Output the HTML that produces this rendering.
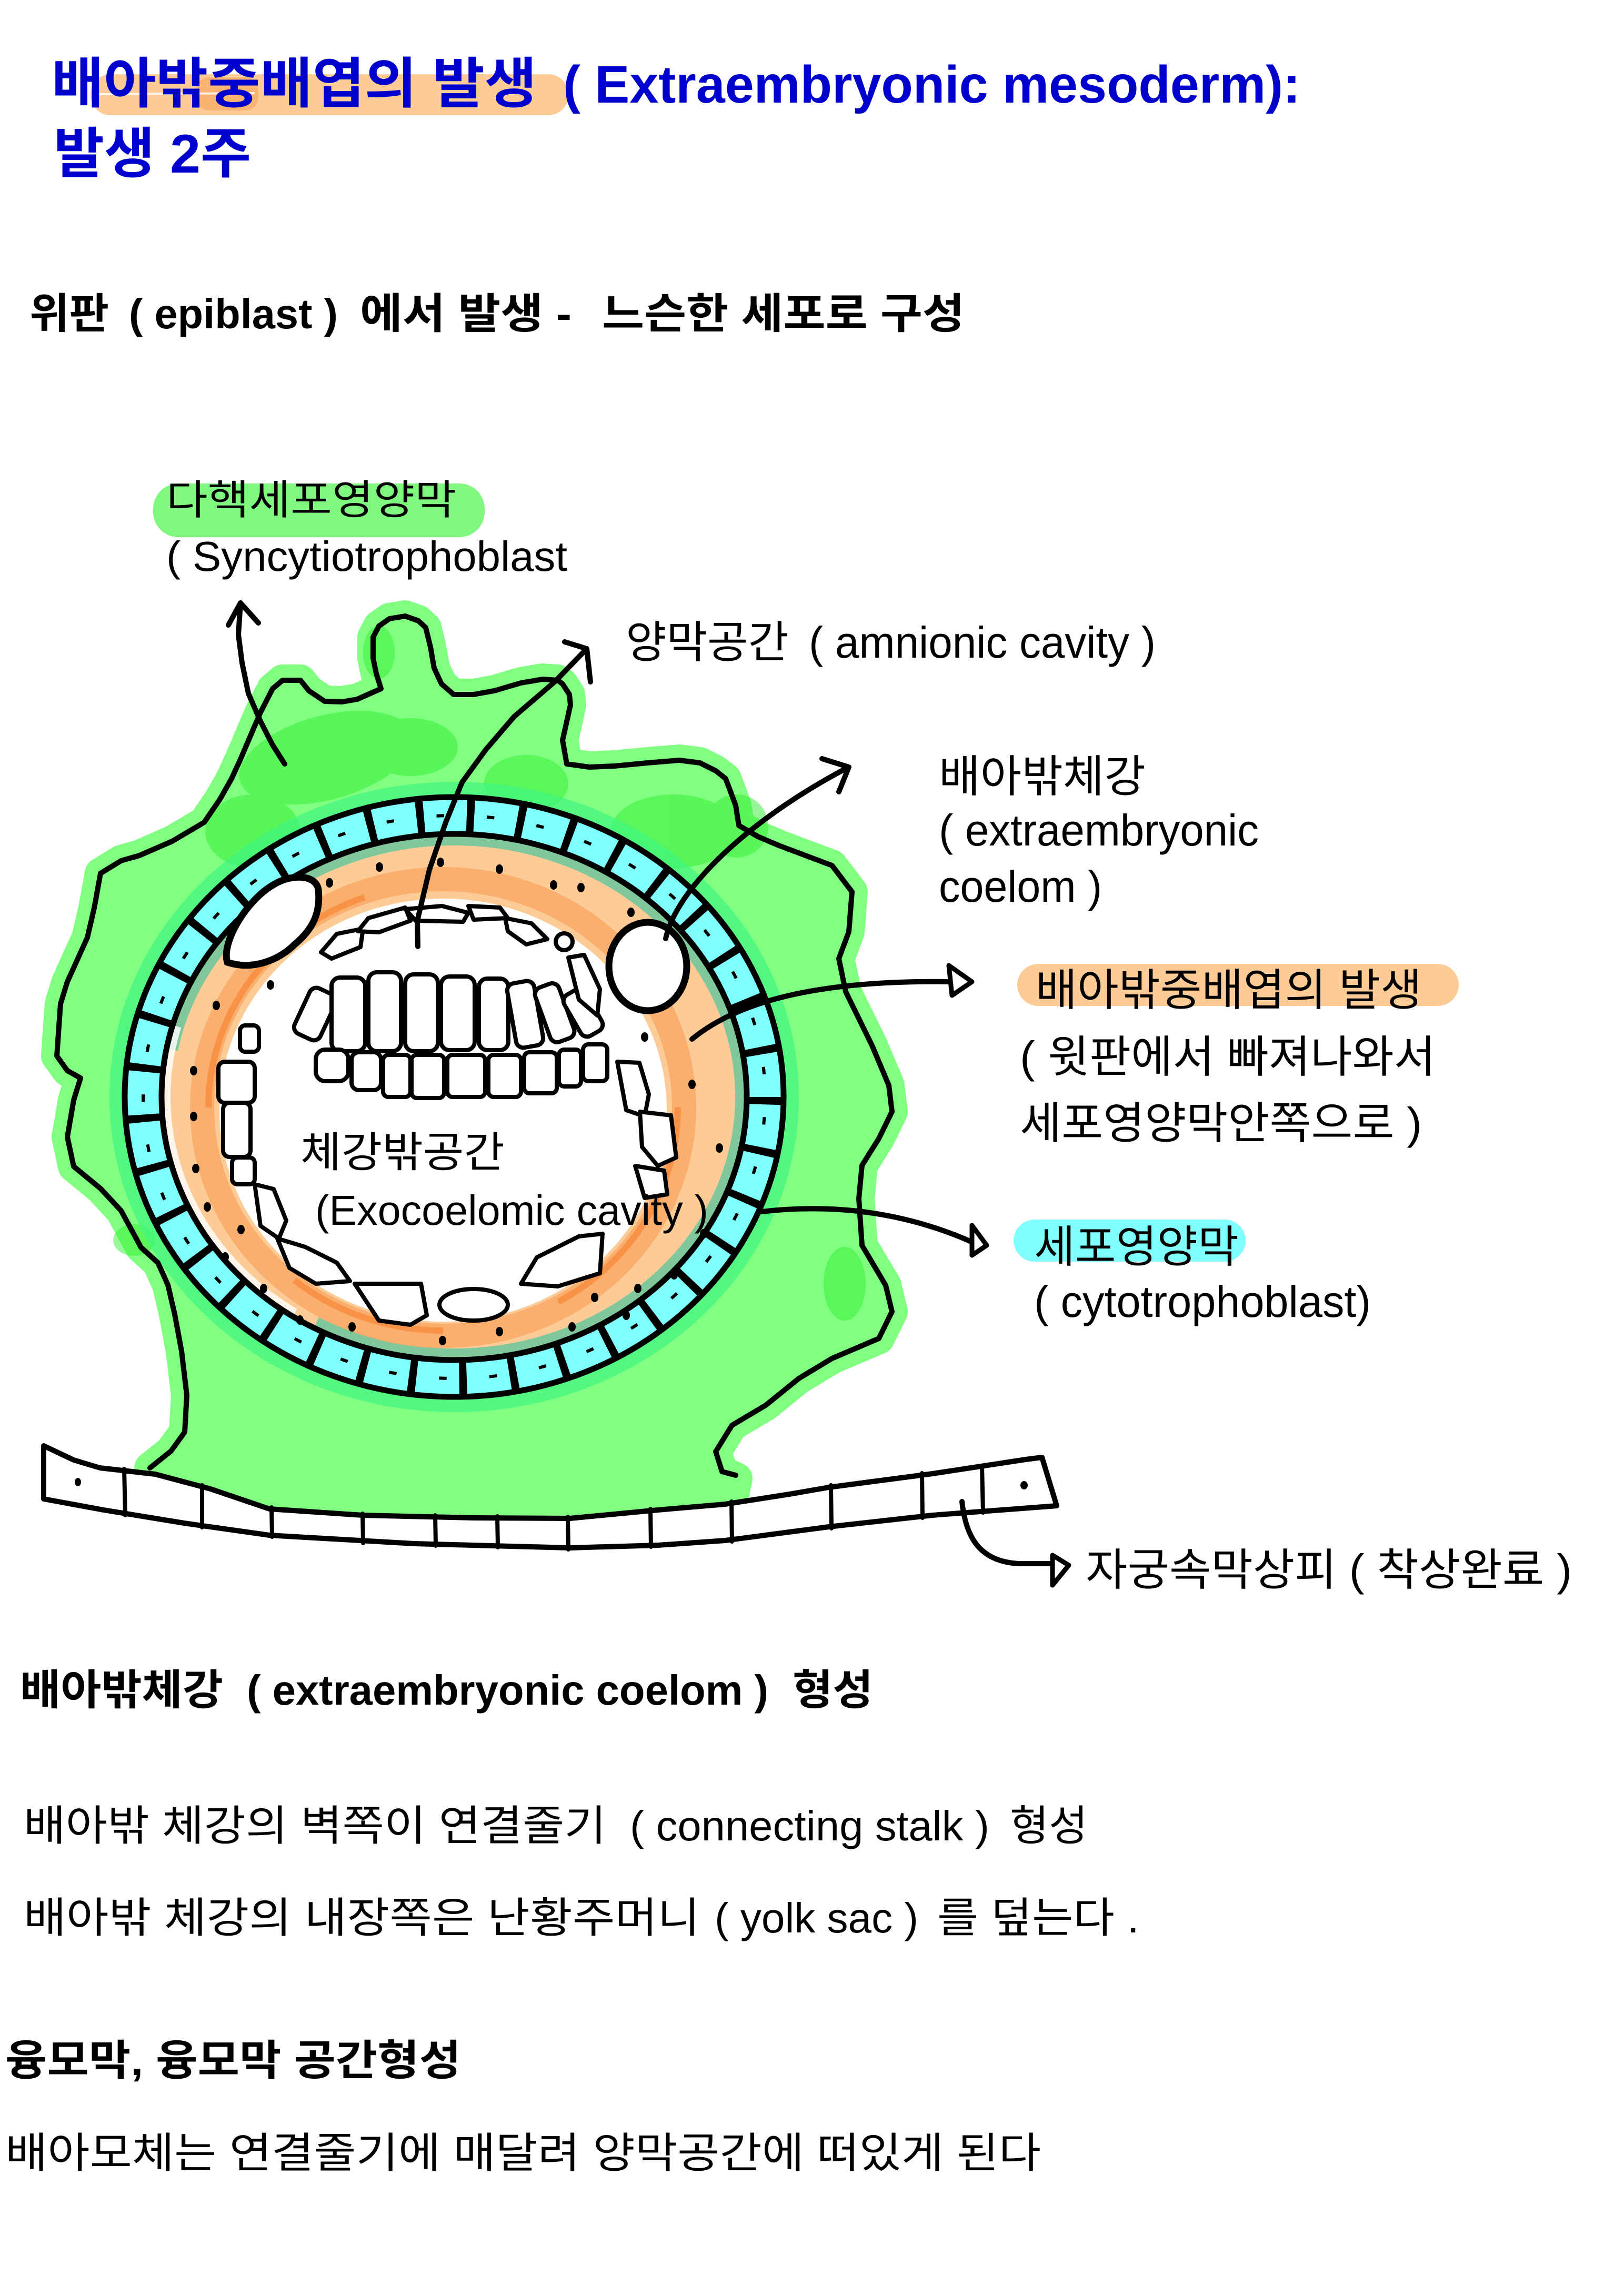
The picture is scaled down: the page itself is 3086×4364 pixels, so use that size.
<!DOCTYPE html>
<html><head><meta charset="utf-8"><style>
html,body{margin:0;padding:0;background:#fff;}
svg{display:block;}
text{font-family:"Liberation Sans","Noto Sans CJK KR",sans-serif;}
.b{font-weight:bold;}
</style></head><body>
<svg width="3086" height="4364" viewBox="0 0 3086 4364" xmlns="http://www.w3.org/2000/svg">
<rect width="3086" height="4364" fill="#fff"/>

<!-- Title highlight -->
<rect x="172" y="141" width="908" height="78" rx="38" fill="#fdcb96"/>
<rect x="372" y="147" width="119" height="63" rx="25" fill="#f9a15a" opacity="0.55"/>
<line x1="185" y1="179" x2="484" y2="177" stroke="#fff" stroke-width="4" opacity="0.8"/>

<text x="98" y="195" font-size="104" class="b" fill="#0000cd" textLength="922" lengthAdjust="spacingAndGlyphs">배아밖중배엽의 발생</text>
<text x="1070" y="195" font-size="100" class="b" fill="#0000cd" textLength="1401" lengthAdjust="spacingAndGlyphs">( Extraembryonic mesoderm):</text>
<text x="102" y="328" font-size="104" class="b" fill="#0000cd" textLength="375" lengthAdjust="spacingAndGlyphs">발생 2주</text>

<text x="56" y="624" font-size="80" class="b" fill="#000" textLength="151" lengthAdjust="spacingAndGlyphs">위판</text>
<text x="245" y="624" font-size="80" class="b" fill="#000" textLength="397" lengthAdjust="spacingAndGlyphs">( epiblast )</text>
<text x="684" y="624" font-size="80" class="b" fill="#000" textLength="402" lengthAdjust="spacingAndGlyphs">에서 발생 -</text>
<text x="1144" y="624" font-size="80" class="b" fill="#000" textLength="689" lengthAdjust="spacingAndGlyphs">느슨한 세포로 구성</text>

<!-- label highlights -->
<rect x="291" y="919" width="630" height="102" rx="48" fill="#80f880"/>
<rect x="1933" y="1832" width="839" height="80" rx="40" fill="#fdcb96"/>
<rect x="1926" y="2318" width="441" height="80" rx="40" fill="#80ffff"/>

<!-- GREEN syncytiotrophoblast -->
<polygon fill="#80ff80" stroke="#80ff80" stroke-width="60" stroke-linejoin="round" points="285,2790 325,2758 351,2722 355,2652 345,2568 332,2498 319,2442 300,2400 268,2371 230,2301 191,2259 140,2217 128,2161 140,2091 153,2049 128,2035 108,2007 112,1950 115,1908 128,1866 166,1782 179,1726 191,1660 230,1636 265,1626 327,1599 388,1563 418,1519 440,1480 457,1443 480,1389 495,1354 518,1309 537,1293 571,1293 587,1313 617,1333 650,1334 679,1329 724,1309 715,1280 709,1251 709,1211 720,1190 740,1176 770,1171 795,1180 809,1193 818,1230 825,1270 839,1300 862,1320 900,1320 939,1313 990,1298 1031,1291 1060,1293 1069,1300 1082,1320 1084,1340 1075,1380 1069,1407 1077,1452 1120,1458 1168,1456 1230,1450 1291,1445 1330,1450 1360,1465 1379,1480 1398,1531 1404,1569 1440,1590 1480,1607 1581,1645 1619,1695 1613,1771 1594,1822 1607,1885 1657,1987 1689,2063 1695,2113 1670,2164 1638,2215 1632,2278 1638,2367 1683,2443 1695,2493 1670,2544 1581,2582 1518,2620 1455,2671 1391,2709 1360,2759 1372,2797 1400,2810 1390,2858 1250,2870 1083,2886 900,2885 689,2880 512,2868 400,2830 295,2802"/>
<g fill="#33ef33" opacity="0.5">
<ellipse cx="620" cy="1440" rx="170" ry="80" transform="rotate(-15 620 1440)"/>
<ellipse cx="480" cy="1580" rx="90" ry="70"/>
<ellipse cx="780" cy="1420" rx="90" ry="55"/>
<ellipse cx="1000" cy="1490" rx="80" ry="55"/>
<ellipse cx="1280" cy="1580" rx="120" ry="70"/>
<ellipse cx="1400" cy="1570" rx="60" ry="60"/>
<ellipse cx="1605" cy="2440" rx="40" ry="70"/>
<ellipse cx="255" cy="2357" rx="40" ry="30"/>
<ellipse cx="720" cy="1240" rx="30" ry="50"/>
</g>
<ellipse cx="863" cy="2085" rx="642" ry="586" fill="none" stroke="#40f580" stroke-width="26" opacity="0.7"/>

<!-- orange extraembryonic mesoderm -->
<ellipse cx="863" cy="2085" rx="562" ry="506" fill="#fdcb96"/>
<ellipse cx="863" cy="2085" rx="548" ry="492" fill="none" stroke="#80c89c" stroke-width="28" pathLength="360" stroke-dasharray="290 70" stroke-dashoffset="170"/>
<ellipse cx="863" cy="2085" rx="545" ry="490" fill="none" stroke="#fff" stroke-width="12" pathLength="360" stroke-dasharray="70 290" stroke-dashoffset="-125" opacity="0.8"/>
<ellipse cx="842" cy="2105" rx="458" ry="434" fill="none" stroke="#f9a864" stroke-width="46" opacity="0.8"/>
<ellipse cx="842" cy="2105" rx="446" ry="424" fill="none" stroke="#f57a26" stroke-width="12" opacity="0.55" pathLength="360" stroke-dasharray="60 30 40 50 70 110"/>
<ellipse cx="842" cy="2110" rx="425" ry="402" fill="#fff"/>

<!-- cyan cytotrophoblast ring -->
<ellipse cx="863" cy="2085" rx="591" ry="535" fill="none" stroke="#80ffff" stroke-width="70"/>
<ellipse cx="863" cy="2085" rx="591" ry="535" fill="none" stroke="#000" stroke-width="76" pathLength="370" stroke-dasharray="1.5 8.5"/>
<ellipse cx="863" cy="2085" rx="591" ry="535" fill="none" stroke="#000" stroke-width="6" pathLength="370" stroke-dasharray="1.5 8.5" stroke-dashoffset="-4"/>
<ellipse cx="863" cy="2085" rx="626" ry="570" fill="none" stroke="#000" stroke-width="11"/>
<ellipse cx="863" cy="2085" rx="556" ry="500" fill="none" stroke="#000" stroke-width="11"/>

<!-- cells in cavity -->
<g fill="#fff" stroke="#000" stroke-width="8" stroke-linejoin="round">
<rect x="572" y="1880" width="54" height="95" rx="14" transform="rotate(25 599 1927)"/>
<rect x="630" y="1858" width="64" height="140" rx="16"/>
<rect x="700" y="1848" width="62" height="150" rx="16"/>
<rect x="770" y="1852" width="62" height="146" rx="16"/>
<rect x="838" y="1856" width="64" height="140" rx="16"/>
<rect x="910" y="1860" width="56" height="136" rx="16"/>
<rect x="972" y="1866" width="52" height="124" rx="14" transform="rotate(-10 998 1928)"/>
<rect x="1030" y="1870" width="48" height="110" rx="14" transform="rotate(-20 1054 1925)"/>
<rect x="1085" y="1880" width="46" height="90" rx="14" transform="rotate(-30 1108 1925)"/>
<rect x="600" y="1995" width="62" height="60" rx="18"/>
<rect x="668" y="2000" width="56" height="72" rx="14"/>
<rect x="728" y="2005" width="52" height="80" rx="10"/>
<rect x="782" y="2005" width="62" height="82" rx="10"/>
<rect x="850" y="2005" width="72" height="80" rx="10"/>
<rect x="928" y="2005" width="62" height="80" rx="10"/>
<rect x="996" y="2000" width="62" height="78" rx="10"/>
<rect x="1062" y="1995" width="42" height="70" rx="10"/>
<rect x="1108" y="1985" width="46" height="70" rx="10"/>
<polygon points="610,1810 640,1775 690,1765 685,1800 630,1822"/>
<polygon points="680,1770 700,1745 770,1725 780,1750 720,1772"/>
<polygon points="770,1728 840,1722 890,1735 880,1752 790,1750"/>
<polygon points="890,1722 950,1725 965,1745 900,1748"/>
<polygon points="960,1745 1010,1755 1040,1785 1000,1795 965,1770"/>
<circle cx="1072" cy="1790" r="16"/>
<polygon points="1080,1820 1110,1815 1140,1880 1135,1930 1100,1900"/>
<rect x="456" y="1949" width="36" height="50" rx="10"/>
<rect x="415" y="2018" width="69" height="78" rx="12"/>
<rect x="424" y="2096" width="52" height="103" rx="12"/>
<rect x="441" y="2200" width="43" height="51" rx="10"/>
<polygon points="484,2251 520,2260 544,2320 530,2354 495,2330"/>
<polygon points="527,2354 580,2370 640,2400 665,2435 600,2440 550,2410"/>
<polygon points="674,2440 800,2440 811,2500 780,2518 720,2510"/>
<ellipse cx="900" cy="2480" rx="65" ry="30"/>
<polygon points="990,2440 1020,2390 1100,2350 1145,2345 1140,2420 1060,2445"/>
<polygon points="1173,2018 1215,2020 1233,2080 1225,2122 1190,2110"/>
<polygon points="1216,2113 1275,2120 1285,2200 1250,2216 1220,2180"/>
<polygon points="1207,2216 1262,2225 1268,2270 1225,2277"/>
</g>
<path d="M432,1829 C420,1790 470,1710 519,1682 C550,1662 600,1660 605,1691 C610,1740 590,1770 560,1795 C530,1825 480,1845 432,1829 Z" fill="#fff" stroke="#000" stroke-width="13"/>
<ellipse cx="1231" cy="1837" rx="74" ry="84" fill="#fff" stroke="#000" stroke-width="13"/>

<g fill="#000">
<ellipse cx="721" cy="1648" rx="7" ry="9"/><ellipse cx="837" cy="1639" rx="7" ry="9"/><ellipse cx="949" cy="1652" rx="7" ry="9"/>
<ellipse cx="1052" cy="1682" rx="7" ry="9"/><ellipse cx="1104" cy="1687" rx="7" ry="9"/><ellipse cx="626" cy="1678" rx="7" ry="9"/>
<ellipse cx="1199" cy="1734" rx="7" ry="9"/><ellipse cx="514" cy="1872" rx="7" ry="9"/><ellipse cx="411" cy="1911" rx="7" ry="9"/>
<ellipse cx="368" cy="2035" rx="7" ry="9"/><ellipse cx="368" cy="2122" rx="7" ry="9"/><ellipse cx="372" cy="2221" rx="7" ry="9"/>
<ellipse cx="394" cy="2294" rx="7" ry="9"/><ellipse cx="458" cy="2337" rx="7" ry="9"/><ellipse cx="428" cy="2389" rx="7" ry="9"/>
<ellipse cx="501" cy="2449" rx="7" ry="9"/><ellipse cx="570" cy="2509" rx="7" ry="9"/><ellipse cx="669" cy="2522" rx="7" ry="9"/>
<ellipse cx="841" cy="2548" rx="7" ry="9"/><ellipse cx="949" cy="2531" rx="7" ry="9"/><ellipse cx="1087" cy="2522" rx="7" ry="9"/>
<ellipse cx="1190" cy="2500" rx="7" ry="9"/><ellipse cx="1130" cy="2466" rx="7" ry="9"/><ellipse cx="1212" cy="2449" rx="7" ry="9"/>
<ellipse cx="1281" cy="2423" rx="7" ry="9"/><ellipse cx="1337" cy="2345" rx="7" ry="9"/><ellipse cx="1367" cy="2182" rx="7" ry="9"/>
<ellipse cx="1315" cy="2061" rx="7" ry="9"/><ellipse cx="1225" cy="1971" rx="7" ry="9"/>
</g>

<polyline fill="none" stroke="#000" stroke-width="10" stroke-linejoin="round" stroke-linecap="round" points="285,2790 325,2758 351,2722 355,2652 345,2568 332,2498 319,2442 300,2400 268,2371 230,2301 191,2259 140,2217 128,2161 140,2091 153,2049 128,2035 108,2007 112,1950 115,1908 128,1866 166,1782 179,1726 191,1660 230,1636 265,1626 327,1599 388,1563 418,1519 440,1480 457,1443 480,1389 495,1354 518,1309 537,1293 571,1293 587,1313 617,1333 650,1334 679,1329 724,1309 715,1280 709,1251 709,1211 720,1190 740,1176 770,1171 795,1180 809,1193 818,1230 825,1270 839,1300 862,1320 900,1320 939,1313 990,1298 1031,1291 1060,1293 1069,1300 1082,1320 1084,1340 1075,1380 1069,1407 1077,1452 1120,1458 1168,1456 1230,1450 1291,1445 1330,1450 1360,1465 1379,1480 1398,1531 1404,1569 1440,1590 1480,1607 1581,1645 1619,1695 1613,1771 1594,1822 1607,1885 1657,1987 1689,2063 1695,2113 1670,2164 1638,2215 1632,2278 1638,2367 1683,2443 1695,2493 1670,2544 1581,2582 1518,2620 1455,2671 1391,2709 1360,2759 1372,2797 1398,2804"/>

<polygon fill="#fff" stroke="#000" stroke-width="10" stroke-linejoin="round" points="83,2748 140,2775 190,2790 295,2802 400,2830 512,2868 689,2880 900,2885 1083,2886 1250,2870 1378,2859 1500,2840 1575,2827 1772,2801 1949,2774 1980,2770 2008,2862 1772,2880 1575,2902 1378,2928 1250,2937 1083,2942 787,2934 512,2918 350,2895 197,2870 83,2849"/>
<g stroke="#000" stroke-width="8" stroke-linecap="round">
<line x1="236" y1="2792" x2="238" y2="2880"/><line x1="384" y1="2823" x2="384" y2="2903"/>
<line x1="516" y1="2865" x2="517" y2="2921"/><line x1="689" y1="2877" x2="690" y2="2933"/>
<line x1="827" y1="2880" x2="828" y2="2938"/><line x1="945" y1="2882" x2="946" y2="2941"/>
<line x1="1079" y1="2883" x2="1080" y2="2945"/><line x1="1236" y1="2868" x2="1237" y2="2940"/>
<line x1="1390" y1="2854" x2="1391" y2="2930"/><line x1="1579" y1="2823" x2="1580" y2="2905"/>
<line x1="1752" y1="2800" x2="1753" y2="2885"/><line x1="1866" y1="2786" x2="1868" y2="2875"/>
</g>
<ellipse cx="148" cy="2817" rx="6" ry="8" fill="#000"/>
<ellipse cx="1946" cy="2823" rx="7" ry="8" fill="#000"/>

<g fill="none" stroke="#000" stroke-width="10" stroke-linecap="round" stroke-linejoin="round">
<polyline points="541,1452 518,1416 495,1371 472,1318 460,1260 453,1206 457,1146"/>
<polyline points="434,1188 457,1146 491,1184"/>
<polyline points="794,1799 793,1750 816,1653 847,1563 878,1487 923,1425 977,1362 1054,1296 1115,1233"/>
<polyline points="1073,1220 1115,1233 1122,1296"/>
<path d="M1265,1784 C1285,1690 1420,1560 1607,1461"/>
<polyline points="1562,1442 1613,1458 1594,1505"/>
<path d="M1315,1975 C1400,1905 1550,1862 1809,1866"/>
<path d="M1448,2303 C1560,2290 1700,2295 1850,2362"/>
<path d="M1828,2854 C1835,2920 1860,2968 1936,2972 L2005,2972"/>
</g>
<g fill="#fff" stroke="#000" stroke-width="9" stroke-linejoin="round">
<polygon points="1803,1835 1847,1866 1809,1892"/>
<polygon points="1847,2329 1875,2367 1847,2386"/>
<polygon points="2000,2956 2031,2975 2000,3013"/>
</g>

<g fill="#000">
<text x="316" y="977" font-size="78" textLength="551" lengthAdjust="spacingAndGlyphs">다핵세포영양막</text>
<text x="316" y="1085" font-size="80" textLength="762" lengthAdjust="spacingAndGlyphs">( Syncytiotrophoblast</text>
<text x="1189" y="1250" font-size="84" textLength="310" lengthAdjust="spacingAndGlyphs">양막공간</text>
<text x="1537" y="1250" font-size="84" textLength="659" lengthAdjust="spacingAndGlyphs">( amnionic cavity )</text>
<text x="1784" y="1505" font-size="84" textLength="393" lengthAdjust="spacingAndGlyphs">배아밖체강</text>
<text x="1784" y="1607" font-size="84" textLength="608" lengthAdjust="spacingAndGlyphs">( extraembryonic</text>
<text x="1784" y="1714" font-size="84" textLength="310" lengthAdjust="spacingAndGlyphs">coelom )</text>
<text x="1968" y="1911" font-size="84" textLength="734" lengthAdjust="spacingAndGlyphs">배아밖중배엽의 발생</text>
<text x="1938" y="2038" font-size="84" textLength="790" lengthAdjust="spacingAndGlyphs">( 윗판에서 빠져나와서</text>
<text x="1938" y="2164" font-size="84" textLength="764" lengthAdjust="spacingAndGlyphs">세포영양막안쪽으로 )</text>
<text x="1965" y="2399" font-size="84" textLength="389" lengthAdjust="spacingAndGlyphs">세포영양막</text>
<text x="1965" y="2503" font-size="84" textLength="640" lengthAdjust="spacingAndGlyphs">( cytotrophoblast)</text>
<text x="2063" y="3013" font-size="84" textLength="924" lengthAdjust="spacingAndGlyphs">자궁속막상피 ( 착상완료 )</text>
<text x="571" y="2218" font-size="80" textLength="388" lengthAdjust="spacingAndGlyphs">체강밖공간</text>
<text x="599" y="2328" font-size="80" textLength="747" lengthAdjust="spacingAndGlyphs">(Exocoelomic cavity )</text>

<text x="38" y="3240" font-size="80" class="b" textLength="386" lengthAdjust="spacingAndGlyphs">배아밖체강</text>
<text x="469" y="3240" font-size="80" class="b" textLength="991" lengthAdjust="spacingAndGlyphs">( extraembryonic coelom )</text>
<text x="1506" y="3240" font-size="80" class="b" textLength="153" lengthAdjust="spacingAndGlyphs">형성</text>

<text x="45" y="3498" font-size="80" textLength="1107" lengthAdjust="spacingAndGlyphs">배아밖 체강의 벽쪽이 연결줄기</text>
<text x="1197" y="3498" font-size="80" textLength="683" lengthAdjust="spacingAndGlyphs">( connecting stalk )</text>
<text x="1919" y="3498" font-size="80" textLength="148" lengthAdjust="spacingAndGlyphs">형성</text>

<text x="45" y="3673" font-size="80" textLength="1285" lengthAdjust="spacingAndGlyphs">배아밖 체강의 내장쪽은 난황주머니</text>
<text x="1358" y="3673" font-size="80" textLength="387" lengthAdjust="spacingAndGlyphs">( yolk sac )</text>
<text x="1781" y="3673" font-size="80" textLength="384" lengthAdjust="spacingAndGlyphs">를 덮는다 .</text>

<text x="10" y="3944" font-size="80" class="b" textLength="866" lengthAdjust="spacingAndGlyphs">융모막, 융모막 공간형성</text>
<text x="10" y="4120" font-size="80" textLength="1968" lengthAdjust="spacingAndGlyphs">배아모체는 연결줄기에 매달려 양막공간에 떠있게 된다</text>
</g>
</svg>
</body></html>
